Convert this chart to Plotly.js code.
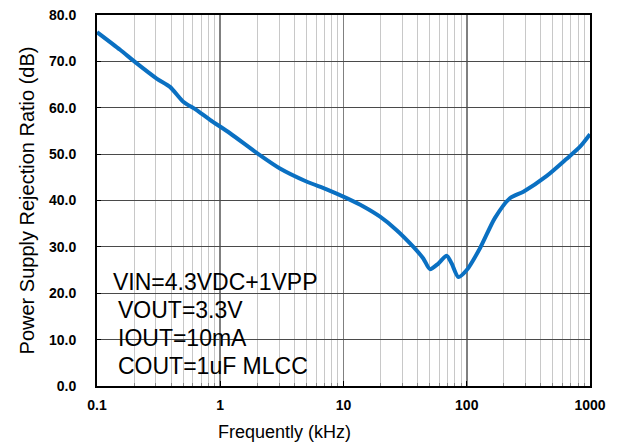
<!DOCTYPE html>
<html>
<head>
<meta charset="utf-8">
<script src="https://cdn.plot.ly/plotly-3.0.1.min.js"></script>
<style>html,body{margin:0;padding:0;background:#fff;}#chart{width:619px;height:443px;}</style>
</head>
<body>
<div id="chart"></div>
<script>
// Frequency (kHz)
const freqKHz = [0.1, 0.154, 0.203, 0.305, 0.391, 0.501, 0.644, 0.826, 1.2, 2.04, 3.05, 5, 7.3, 10.6, 14.5, 19.8, 27, 36.9, 44.4, 50.3, 58.8, 68.7, 75.5, 85.5, 100, 128, 169, 224, 288, 446, 647, 830, 1000];
// PSRR (dB)
const psrrDB = [76.3, 72.5, 69.9, 66.3, 64.5, 61.3, 59.5, 57.4, 54.5, 50.0, 46.9, 44.1, 42.4, 40.5, 38.7, 36.5, 33.6, 30.0, 27.5, 25.2, 26.4, 28.1, 26.4, 23.5, 25.0, 29.7, 36.2, 40.5, 41.9, 45.3, 49.0, 51.6, 54.3];

const xTickVals = [0.1, 1, 10, 100, 1000];
const xTickText = ["0.1", "1", "10", "100", "1000"];
const yTickVals = [0, 10, 20, 30, 40, 50, 60, 70, 80];

const conditionLines = ["VIN=4.3VDC+1VPP", "VOUT=3.3V", "IOUT=10mA", "COUT=1uF MLCC"];

const xTitle = "Frequently (kHz)";
const yTitle = "Power Supply Rejection Ratio (dB)";

const trace = {
  x: freqKHz,
  y: psrrDB,
  type: "scatter",
  mode: "lines",
  line: {color: "#0a70c2", width: 4, shape: "spline", smoothing: 0.7},
  hoverinfo: "skip"
};

const plotL = 97, plotR = 590, plotT = 15, plotB = 386;
const pw = plotR - plotL, ph = plotB - plotT;

const textFont = {family: "Liberation Sans, Arial, sans-serif", size: 23, color: "#000"};
const lineY = [281.7, 310, 338.3, 366];
const lineX = [111, 116, 116, 116];
const annotations = conditionLines.map((t, i) => ({
  text: t, xref: "paper", yref: "paper",
  x: (lineX[i] - plotL) / pw, y: (plotB - lineY[i]) / ph,
  xanchor: "left", yanchor: "middle", showarrow: false, font: textFont
}));
annotations.push({
  text: xTitle, xref: "paper", yref: "paper",
  x: (284 - plotL) / pw, y: (plotB - 432) / ph,
  xanchor: "center", yanchor: "middle", showarrow: false,
  font: {family: "Liberation Sans, Arial, sans-serif", size: 18, color: "#000"}
});

const layout = {
  width: 619, height: 443,
  margin: {l: plotL, r: 619 - plotR, t: plotT, b: 443 - plotB},
  paper_bgcolor: "#fff", plot_bgcolor: "#fff",
  showlegend: false,
  font: {family: "Liberation Sans, Arial, sans-serif", color: "#000"},
  xaxis: {
    type: "log",
    range: [-1, 3],
    tickvals: xTickVals, ticktext: xTickText,
    tickfont: {family: "Liberation Sans, Arial, sans-serif", size: 14, color: "#000", weight: "bold"},
    ticks: "inside", ticklen: 5, tickcolor: "#000", tickwidth: 1,
    ticklabelstandoff: 5,
    showgrid: true, gridcolor: "#808080", gridwidth: 1.6,
    minor: {dtick: "D1", showgrid: true, gridcolor: "#c8c8c8", gridwidth: 1, ticks: "inside", ticklen: 3, tickcolor: "#888"},
    showline: true, linecolor: "#000", linewidth: 2, mirror: true,
    zeroline: false, automargin: false
  },
  yaxis: {
    range: [0, 80],
    tickvals: yTickVals, tickformat: ".1f",
    tickfont: {family: "Liberation Sans, Arial, sans-serif", size: 14, color: "#000", weight: "bold"},
    ticks: "inside", ticklen: 4, tickcolor: "#000", tickwidth: 1,
    ticklabelstandoff: 16,
    showgrid: true, gridcolor: "#4a4a4a", gridwidth: 1,
    showline: true, linecolor: "#000", linewidth: 2, mirror: true,
    zeroline: false, automargin: "left",
    title: {text: yTitle, standoff: 9, font: {family: "Liberation Sans, Arial, sans-serif", size: 20, color: "#000"}}
  },
  shapes: [{
    type: "rect", xref: "paper", yref: "paper",
    x0: 0, x1: (335 - plotL) / pw, y0: 0, y1: (plotB - 265) / ph,
    fillcolor: "#fff", line: {width: 0}, layer: "between"
  }],
  annotations: annotations
};

Plotly.newPlot("chart", [trace], layout, {displayModeBar: false, staticPlot: true});
</script>
</body>
</html>
